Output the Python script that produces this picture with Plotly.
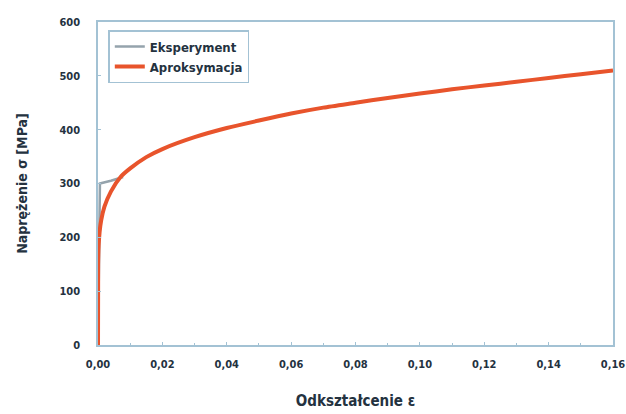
import plotly.graph_objects as go

# Measured stress-strain curve (strain, stress in MPa)
exp_strain = [0.0, 0.0004, 0.0006, 0.0012, 0.004, 0.0078]
exp_stress = [0, 250, 300, 301, 305, 312]

# Power-law approximation of the hardening curve
apx_strain = [0.0, 0.00005, 0.0002, 0.0005, 0.001, 0.002, 0.004, 0.007, 0.010, 0.015,
              0.020, 0.030, 0.040, 0.050, 0.060, 0.070, 0.080, 0.090, 0.100,
              0.110, 0.120, 0.130, 0.140, 0.150, 0.160]
apx_stress = [0, 150, 185, 210, 232, 257, 285, 312, 328, 349,
              364, 386, 403, 417, 430, 441, 450, 459, 467,
              475, 482, 489, 496, 503, 510]

x_ticks = [0.0, 0.02, 0.04, 0.06, 0.08, 0.10, 0.12, 0.14, 0.16]
x_tick_text = ["0,00", "0,02", "0,04", "0,06", "0,08", "0,10", "0,12", "0,14", "0,16"]
y_ticks = [0, 100, 200, 300, 400, 500, 600]

FONT = "DejaVu Sans Condensed"
TEXT = "#24323f"
FRAME = "#a3c2d4"

fig = go.Figure()
fig.add_trace(go.Scatter(
    x=exp_strain, y=exp_stress, mode="lines", name="Eksperyment",
    line=dict(color="#95a3ac", width=2.5),
))
fig.add_trace(go.Scatter(
    x=apx_strain, y=apx_stress, mode="lines", name="Aproksymacja",
    line=dict(color="#e8542c", width=4, shape="spline", smoothing=0.6),
))

axis_common = dict(
    showgrid=False, zeroline=False, showline=True, mirror=True,
    linecolor=FRAME, linewidth=1.5,
    ticks="inside", ticklen=3, tickcolor=FRAME,
    tickfont=dict(family=FONT, size=11, color=TEXT, weight="bold"),
    automargin=False,
)

fig.update_layout(
    width=626, height=414,
    margin=dict(l=98, r=13, t=22, b=69),
    paper_bgcolor="white", plot_bgcolor="white",
    xaxis=dict(
        range=[0, 0.16], tickvals=x_ticks, ticktext=x_tick_text,
        minor=dict(ticks="inside", ticklen=2, tickcolor=FRAME, dtick=0.01),
        title=dict(text="Odkształcenie ε", standoff=26,
                   font=dict(family=FONT, size=15, color=TEXT, weight="bold")),
        ticklabelstandoff=8,
        **axis_common,
    ),
    yaxis=dict(
        range=[0, 600], tickvals=y_ticks,
        title=dict(text="Naprężenie σ [MPa]", standoff=28,
                   font=dict(family=FONT, size=14, color=TEXT, weight="bold")),
        ticklabelstandoff=14,
        **axis_common,
    ),
    legend=dict(
        x=0.02, y=0.975, xanchor="left", yanchor="top",
        bordercolor=FRAME, borderwidth=1.5, bgcolor="white",
        font=dict(family=FONT, size=13, color=TEXT, weight="bold"),
        tracegroupgap=0, itemwidth=30,
    ),
    showlegend=True,
)

fig.write_html("out.html")
